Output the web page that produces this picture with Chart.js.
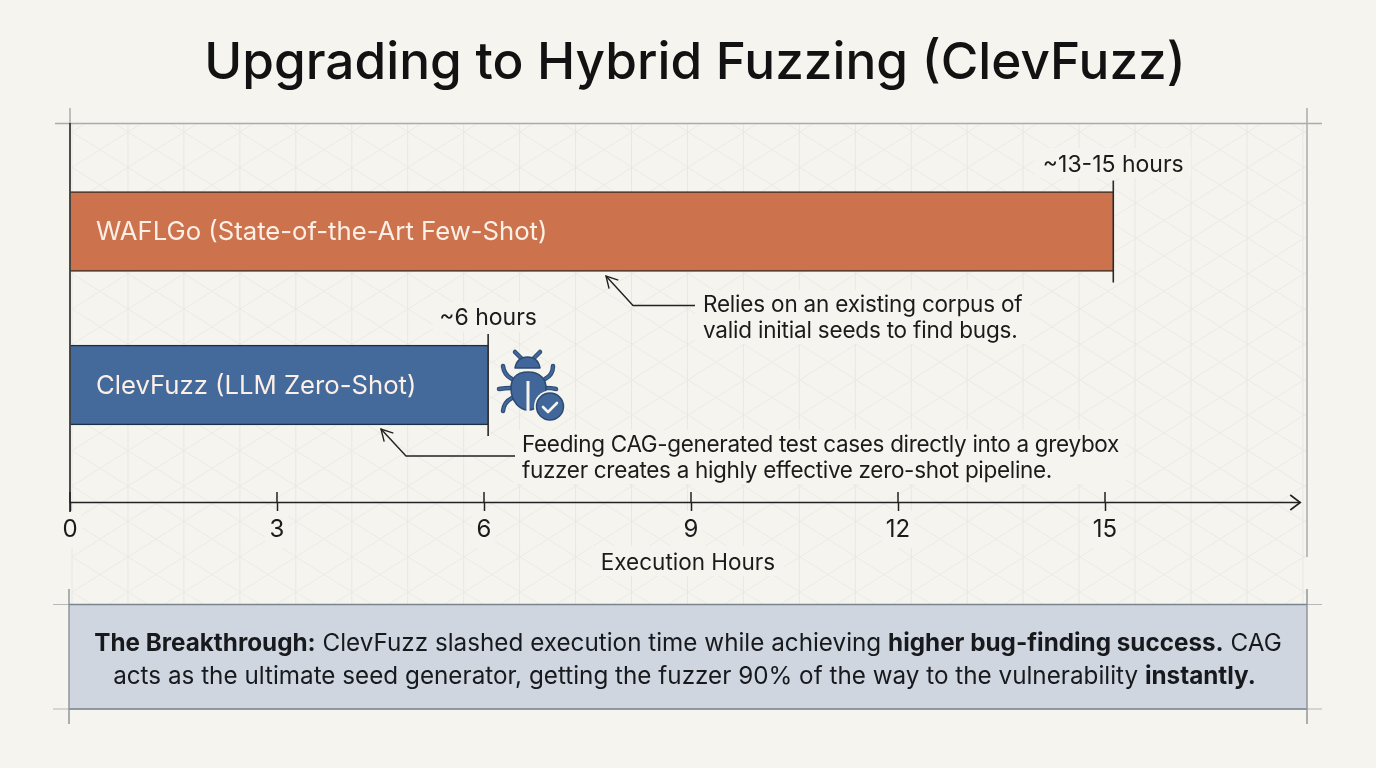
<!DOCTYPE html>
<html><head><meta charset="utf-8">
<style>html,body{margin:0;padding:0;background:#f5f4ef;overflow:hidden}canvas{display:block}</style>
<script src="https://cdn.jsdelivr.net/npm/chart.js@4"></script>
</head><body><canvas id="c" width="1376" height="768"></canvas>
<script>
const titleText = 'Upgrading to Hybrid Fuzzing (ClevFuzz)';
const categories = ['WAFLGo (State-of-the-Art Few-Shot)', 'ClevFuzz (LLM Zero-Shot)'];
const hours = [15.12, 6.06];
const barLabels = ['~13-15 hours', '~6 hours'];
const tickValues = [0, 3, 6, 9, 12, 15];
const axisTitle = 'Execution Hours';
const noteA = ['Relies on an existing corpus of', 'valid initial seeds to find bugs.'];
const noteB = ['Feeding CAG-generated test cases directly into a greybox', 'fuzzer creates a highly effective zero-shot pipeline.'];
const panelLines = [
  [['The Breakthrough:',1],[' ClevFuzz slashed execution time while achieving ',0],['higher bug-finding success.',1],[' CAG',0]],
  [['acts as the ultimate seed generator, getting the fuzzer 90% of the way to the vulnerability ',0],['instantly.',1]]
];
const BG='#f5f4ef', INK='#1b1b1b', FONT='Inter';
const barColors=['#cc734e','#44699b'];
const barEdge=['#3a2a22','#1f2f45'];

function seg(c,pts,color,w){c.strokeStyle=color;c.lineWidth=w;c.beginPath();pts.forEach((p,i)=>i?c.lineTo(p[0],p[1]):c.moveTo(p[0],p[1]));c.stroke();}
function lattice(c){
  c.save();c.beginPath();c.rect(71,124,1235,481);c.clip();
  c.lineWidth=1;
  const per=35.4, slope=per/2/28;
  c.strokeStyle='#ebebe6';
  for(let k=-60;k<60;k++){
    const y0=132+k*per;
    c.beginPath();c.moveTo(72,y0);c.lineTo(1310,y0+1238*slope);c.stroke();
    c.beginPath();c.moveTo(72,y0);c.lineTo(1310,y0-1238*slope);c.stroke();
  }
  c.strokeStyle='#e8e8e3';
  for(let x=72;x<1310;x+=55.95){c.beginPath();c.moveTo(x,124);c.lineTo(x,605);c.stroke();}
  c.restore();
}
function frame(c){
  c.lineCap='butt';
  seg(c,[[55,123.5],[1322,123.5]],'#a9acab',1.5);
  seg(c,[[70,108],[70,123]],'#a9acab',1.5);
  seg(c,[[1307,108],[1307,557]],'#a9acab',1.5);
  c.fillStyle='#cfd6e0';c.fillRect(69,605,1238,104);
  seg(c,[[53,604.5],[1322,604.5]],'#b5b8b7',1.2);
  seg(c,[[53,709],[1322,709]],'#b5b8b7',1.2);
  seg(c,[[69,604.5],[1307,604.5]],'#7a8591',1.6);
  seg(c,[[69,709],[1307,709]],'#7a8591',1.6);
  seg(c,[[69,589],[69,724]],'#8b9096',1.4);
  seg(c,[[1307,589],[1307,724]],'#8b9096',1.4);
}
function arrow(c,tip,elbow,end){
  seg(c,[end,elbow,tip],'#222',1.4);
  const a=Math.atan2(tip[1]-elbow[1],tip[0]-elbow[0]),L=13;
  seg(c,[[tip[0]-L*Math.cos(a-0.5),tip[1]-L*Math.sin(a-0.5)],tip,[tip[0]-L*Math.cos(a+0.5),tip[1]-L*Math.sin(a+0.5)]],'#222',1.4);
}
function bug(c){
  const col='#41669a',edge='#2c4a72';
  c.save();c.lineCap='round';c.lineJoin='round';
  const leg=(pts)=>{c.strokeStyle=edge;c.lineWidth=4.5;c.beginPath();c.moveTo(pts[0],pts[1]);c.quadraticCurveTo(pts[2],pts[3],pts[4],pts[5]);c.stroke();c.strokeStyle=col;c.lineWidth=2.5;c.stroke();};
  leg([522,359,518,355,515,352]);leg([533,359,537,355,540,352]);
  leg([512,379,504,375,503,366]);leg([545,379,553,375,553,366]);
  leg([511,388,505,388,499,389]);leg([545,388,551,388,556,389]);
  leg([512,398,504,402,503,411]);
  c.fillStyle=col;c.strokeStyle=edge;c.lineWidth=1.5;
  c.beginPath();c.moveTo(515,368);c.quadraticCurveTo(517,357,527.5,357);c.quadraticCurveTo(538,357,540,368);c.closePath();c.fill();c.stroke();
  c.beginPath();c.moveTo(528,372);c.bezierCurveTo(515,372,511,380,511,388);c.bezierCurveTo(511,402,520,410,528,410);c.bezierCurveTo(537,410,546,402,546,388);c.bezierCurveTo(546,380,541,372,528,372);c.closePath();c.fill();c.stroke();
  c.strokeStyle='#f5f4ef';c.lineWidth=3;c.lineCap='butt';c.beginPath();c.moveTo(528,381);c.lineTo(528,411);c.stroke();
  c.fillStyle='#f5f4ef';c.beginPath();c.arc(550,406.5,16,0,7);c.fill();
  c.fillStyle=col;c.strokeStyle=edge;c.lineWidth=1.5;c.beginPath();c.arc(550,406.5,13.5,0,7);c.fill();c.stroke();
  c.strokeStyle='#f5f4ef';c.lineWidth=2.6;c.lineCap='round';c.beginPath();c.moveTo(543,407);c.lineTo(548,412);c.lineTo(557,403);c.stroke();
  c.restore();
}
function txt(c,s,x,y,font,color,align,sp){c.font=font;c.letterSpacing=sp||'0px';c.fillStyle=color;c.textAlign=align||'left';c.textBaseline='middle';c.fillText(s,x,y);c.letterSpacing='0px';}
const overlay={
  id:'overlay',
  afterLayout(ch){ch.titleBlock.left+=7;ch.titleBlock.right+=7;},
  beforeDraw(ch){
    const c=ch.ctx;c.save();c.fillStyle=BG;c.fillRect(0,0,1376,768);
    lattice(c);
    c.fillStyle=BG;
    const e=(x,y,w,h)=>c.fillRect(x,y,w,h);
    e(1035,148,156,30);e(433,302,112,30);e(695,290,335,54);e(514,430,612,54);e(592,546,192,30);
    frame(c);c.restore();
  },
  afterDraw(ch){
    const c=ch.ctx,xs=ch.scales.x,ys=ch.scales.y;c.save();
    const top=ch.chartArea.top,bottom=ch.chartArea.bottom;
    seg(c,[[xs.left,top],[xs.left,bottom+10]],'#222',1.6);
    const end=xs.getPixelForValue(17.83);
    seg(c,[[xs.left,bottom+0.5],[end,bottom+0.5]],'#222',1.6);
    seg(c,[[end-10,bottom-7],[end,bottom+0.5],[end-10,bottom+8]],'#222',1.6);
    tickValues.forEach(v=>{const x=xs.getPixelForValue(v);seg(c,[[x,bottom-10],[x,bottom+1]],'#222',1.5);});
    hours.forEach((h,i)=>{
      const x=xs.getPixelForValue(h),y=ys.getPixelForValue(i);
      seg(c,[[x,y-51],[x,y+51]],'#2a2a2a',1.6);
      txt(c,barLabels[i],x,y-66.5,'400 23px '+FONT,INK,'center');
      txt(c,categories[i],96,y+1,'400 25.7px '+FONT,'#fbefe6');
    });
    arrow(c,[606,276],[633,305.5],[695,305.5]);
    arrow(c,[381,429],[406,456],[515,456]);
    noteA.forEach((s,i)=>txt(c,s,703,305+i*26,'400 22.5px '+FONT,INK,'left','-0.2px'));
    noteB.forEach((s,i)=>txt(c,s,522,445+i*26,'400 22.5px '+FONT,INK,'left','-0.32px'));
    bug(c);
    panelLines.forEach((runs,i)=>{
      let w=0;const f=b=>(b?'700':'400')+' 24.25px '+FONT;
      runs.forEach(r=>{c.font=f(r[1]);w+=c.measureText(r[0]).width;});
      let x=(i?684.5:688)-w/2;
      runs.forEach(r=>{txt(c,r[0],x,644+i*33,f(r[1]),'#17191c');x+=c.measureText(r[0]).width;});
    });
    c.restore();
  }
};
new Chart(document.getElementById('c'),{
  type:'bar',
  plugins:[overlay],
  data:{datasets:[{
    data:hours.map((h,i)=>({x:h,y:i})),
    backgroundColor:barColors,
    borderColor:barEdge,
    borderWidth:{top:1.6,bottom:1.6,left:0,right:0},
    borderSkipped:false,
    barThickness:80
  }]},
  options:{
    indexAxis:'y',responsive:false,animation:false,devicePixelRatio:1,
    layout:{padding:{left:70,right:70,top:0,bottom:191}},
    plugins:{
      legend:{display:false},tooltip:{enabled:false},
      title:{display:true,text:titleText,color:'#121212',font:{family:FONT,size:51.3,weight:'500',lineHeight:1.2},padding:{top:33,bottom:28.44}}
    },
    scales:{
      x:{type:'linear',min:0,max:17.913,
        afterBuildTicks(s){s.ticks=tickValues.map(v=>({value:v}));},
        afterFit(s){s.height=75;},
        grid:{drawOnChartArea:false,drawTicks:true,tickLength:10,tickColor:'#222',tickWidth:1.5},
        border:{display:false},
        ticks:{color:INK,font:{family:FONT,size:24},padding:3,maxRotation:0,autoSkip:false,showLabelBackdrop:true,backdropColor:BG,backdropPadding:4},
        title:{display:true,text:axisTitle,color:INK,font:{family:FONT,size:22.5},padding:0}
      },
      y:{type:'linear',reverse:true,offset:false,min:-0.707,max:1.762,display:false}
    }
  }
});
</script></body></html>
